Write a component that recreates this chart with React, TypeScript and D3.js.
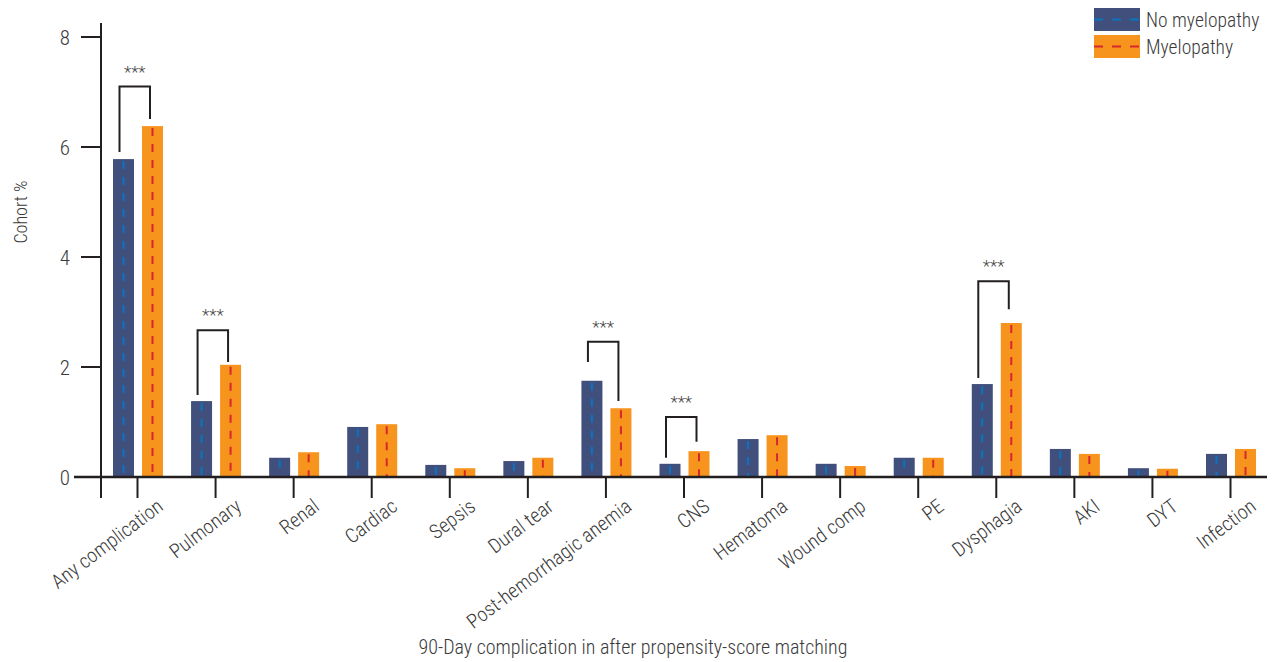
import React from "react";
import * as d3 from "d3";

const categories = [
  "Any complication", "Pulmonary", "Renal", "Cardiac", "Sepsis", "Dural tear",
  "Post-hemorrhagic anemia", "CNS", "Hematoma", "Wound comp", "PE", "Dysphagia",
  "AKI", "DYT", "Infection",
];
const noMyelopathy = [5.78, 1.38, 0.35, 0.91, 0.22, 0.29, 1.75, 0.24, 0.69, 0.24, 0.35, 1.69, 0.51, 0.16, 0.42];
const myelopathy = [6.38, 2.04, 0.45, 0.96, 0.16, 0.35, 1.25, 0.47, 0.76, 0.20, 0.35, 2.80, 0.42, 0.15, 0.51];
const yTicks = [0, 2, 4, 6, 8];
const seriesNames = ["No myelopathy", "Myelopathy"];
// significance brackets: category, bracket top, left leg end, right leg end (in %)
const brackets = [
  { cat: "Any complication", top: 7.10, left: 5.91, right: 6.51 },
  { cat: "Pulmonary", top: 2.67, left: 1.49, right: 2.09 },
  { cat: "Post-hemorrhagic anemia", top: 2.46, left: 2.09, right: 1.38 },
  { cat: "CNS", top: 1.09, left: 0.35, right: 0.64 },
  { cat: "Dysphagia", top: 3.56, left: 1.80, right: 3.05 },
];

const W = 1273;
const H = 662;
const FONT = "'Roboto Condensed', 'Liberation Sans Narrow', 'DejaVu Sans Condensed', Roboto, sans-serif";
const NAVY = "#404f7b";
const ORANGE = "#f7941e";
const BLUE_DASH = "#0b74c0";
const RED_DASH = "#d7262e";
const AXIS = "#231f20";
const TEXT = "#3a3a3a";

export default function App() {
  const x = d3.scalePoint<string>().domain(categories).range([137.5, 1230.5]);
  const xs = d3.scaleBand<string>().domain(seriesNames).range([-24.5, 25.5]).paddingInner(0.276);
  const y = d3.scaleLinear().domain([0, 8]).range([477, 37]);
  const bw = xs.bandwidth();
  const fills = [NAVY, ORANGE];
  const dashes = [BLUE_DASH, RED_DASH];
  const series = [noMyelopathy, myelopathy];

  return (
    <svg width={W} height={H} style={{ position: "absolute", left: 0, top: 0, background: "#fff" }} fontFamily={FONT} fontWeight={300}>
      {/* bars */}
      {categories.map((c, i) => (
        <g key={c}>
          {series.map((vals, s) => {
            const x0 = (x(c) as number) + (xs(seriesNames[s]) as number);
            const yt = y(vals[i]);
            return (
              <g key={s}>
                <rect x={x0} y={yt} width={bw} height={y(0) - yt} fill={fills[s]} />
                <line x1={x0 + bw / 2} x2={x0 + bw / 2} y1={yt + 2} y2={y(0)} stroke={dashes[s]} strokeWidth={2} strokeDasharray="8,8" />
              </g>
            );
          })}
        </g>
      ))}
      {/* axes */}
      <line x1={101} x2={101} y1={23} y2={498} stroke={AXIS} strokeWidth={2} />
      <line x1={74} x2={1267} y1={y(0)} y2={y(0)} stroke={AXIS} strokeWidth={2.5} />
      {yTicks.map((t) => (
        <g key={t}>
          <line x1={81} x2={101} y1={y(t)} y2={y(t)} stroke={AXIS} strokeWidth={2} />
          <text x={70} y={y(t)} dy="0.36em" textAnchor="end" fontSize={21} fill={TEXT}>{t}</text>
        </g>
      ))}
      {categories.map((c) => {
        const cx = x(c) as number;
        return (
          <g key={c}>
            <line x1={cx} x2={cx} y1={y(0)} y2={498} stroke={AXIS} strokeWidth={2} />
            <text transform={`translate(${cx + 27},509) rotate(-37)`} textAnchor="end" fontSize={20} fill={TEXT}>{c}</text>
          </g>
        );
      })}
      {/* brackets */}
      {brackets.map((b) => {
        const cx = x(b.cat) as number;
        const lx = cx - 18;
        const rx = cx + 12.5;
        return (
          <g key={b.cat}>
            <path d={`M${lx},${y(b.left)}V${y(b.top)}H${rx}V${y(b.right)}`} fill="none" stroke={AXIS} strokeWidth={2} />
            <text x={(lx + rx) / 2} y={y(b.top) - 9} textAnchor="middle" fontSize={17} fill="#444">***</text>
          </g>
        );
      })}
      {/* axis titles */}
      <text transform="translate(27,212) rotate(-90)" textAnchor="middle" fontSize={18} fill={TEXT}>Cohort %</text>
      <text x={633} y={654} textAnchor="middle" fontSize={20} fill={TEXT}>90-Day complication in after propensity-score matching</text>
      {/* legend */}
      {seriesNames.map((n, s) => {
        const ly = 8 + s * 27;
        return (
          <g key={n}>
            <rect x={1094} y={ly} width={46} height={23} fill={fills[s]} />
            <line x1={1094} x2={1140} y1={ly + 11.5} y2={ly + 11.5} stroke={dashes[s]} strokeWidth={2} strokeDasharray="9,9" />
            <text x={1146} y={ly + 11.5} dy="0.36em" fontSize={19.5} fill={TEXT}>{n}</text>
          </g>
        );
      })}
    </svg>
  );
}
